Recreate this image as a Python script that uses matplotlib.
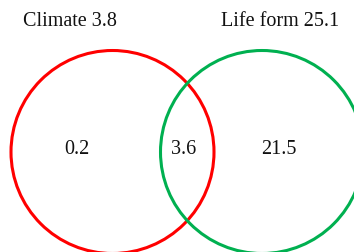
import matplotlib
matplotlib.use("Agg")
import matplotlib.pyplot as plt
from matplotlib.patches import Circle

set_names = ["Climate", "Life form"]
set_totals = [3.8, 25.1]
region_values = [0.2, 3.6, 21.5]  # only climate, shared, only life form
set_colors = ["#FF0000", "#00B050"]

W, H = 354, 252
fig = plt.figure(figsize=(W / 100, H / 100), dpi=100)
ax = fig.add_axes([0, 0, 1, 1])
ax.set_xlim(0, W)
ax.set_ylim(H, 0)
ax.set_aspect("equal")
ax.axis("off")

centers = [(112.5, 152), (262, 152)]
r = 101.5
for (cx, cy), col in zip(centers, set_colors):
    ax.add_patch(Circle((cx, cy), r, fill=False, edgecolor=col, linewidth=2.2))

font = dict(family="Liberation Serif", fontsize=14.5, color="#111111")
title_x = [70, 280]
for name, tot, x in zip(set_names, set_totals, title_x):
    ax.text(x, 21, f"{name} {tot}", ha="center", va="center", **font)

region_x = [77, 184, 279]
for v, x in zip(region_values, region_x):
    ax.text(x, 150, f"{v}", ha="center", va="center", **font)

fig.savefig("out.png", dpi=100)
